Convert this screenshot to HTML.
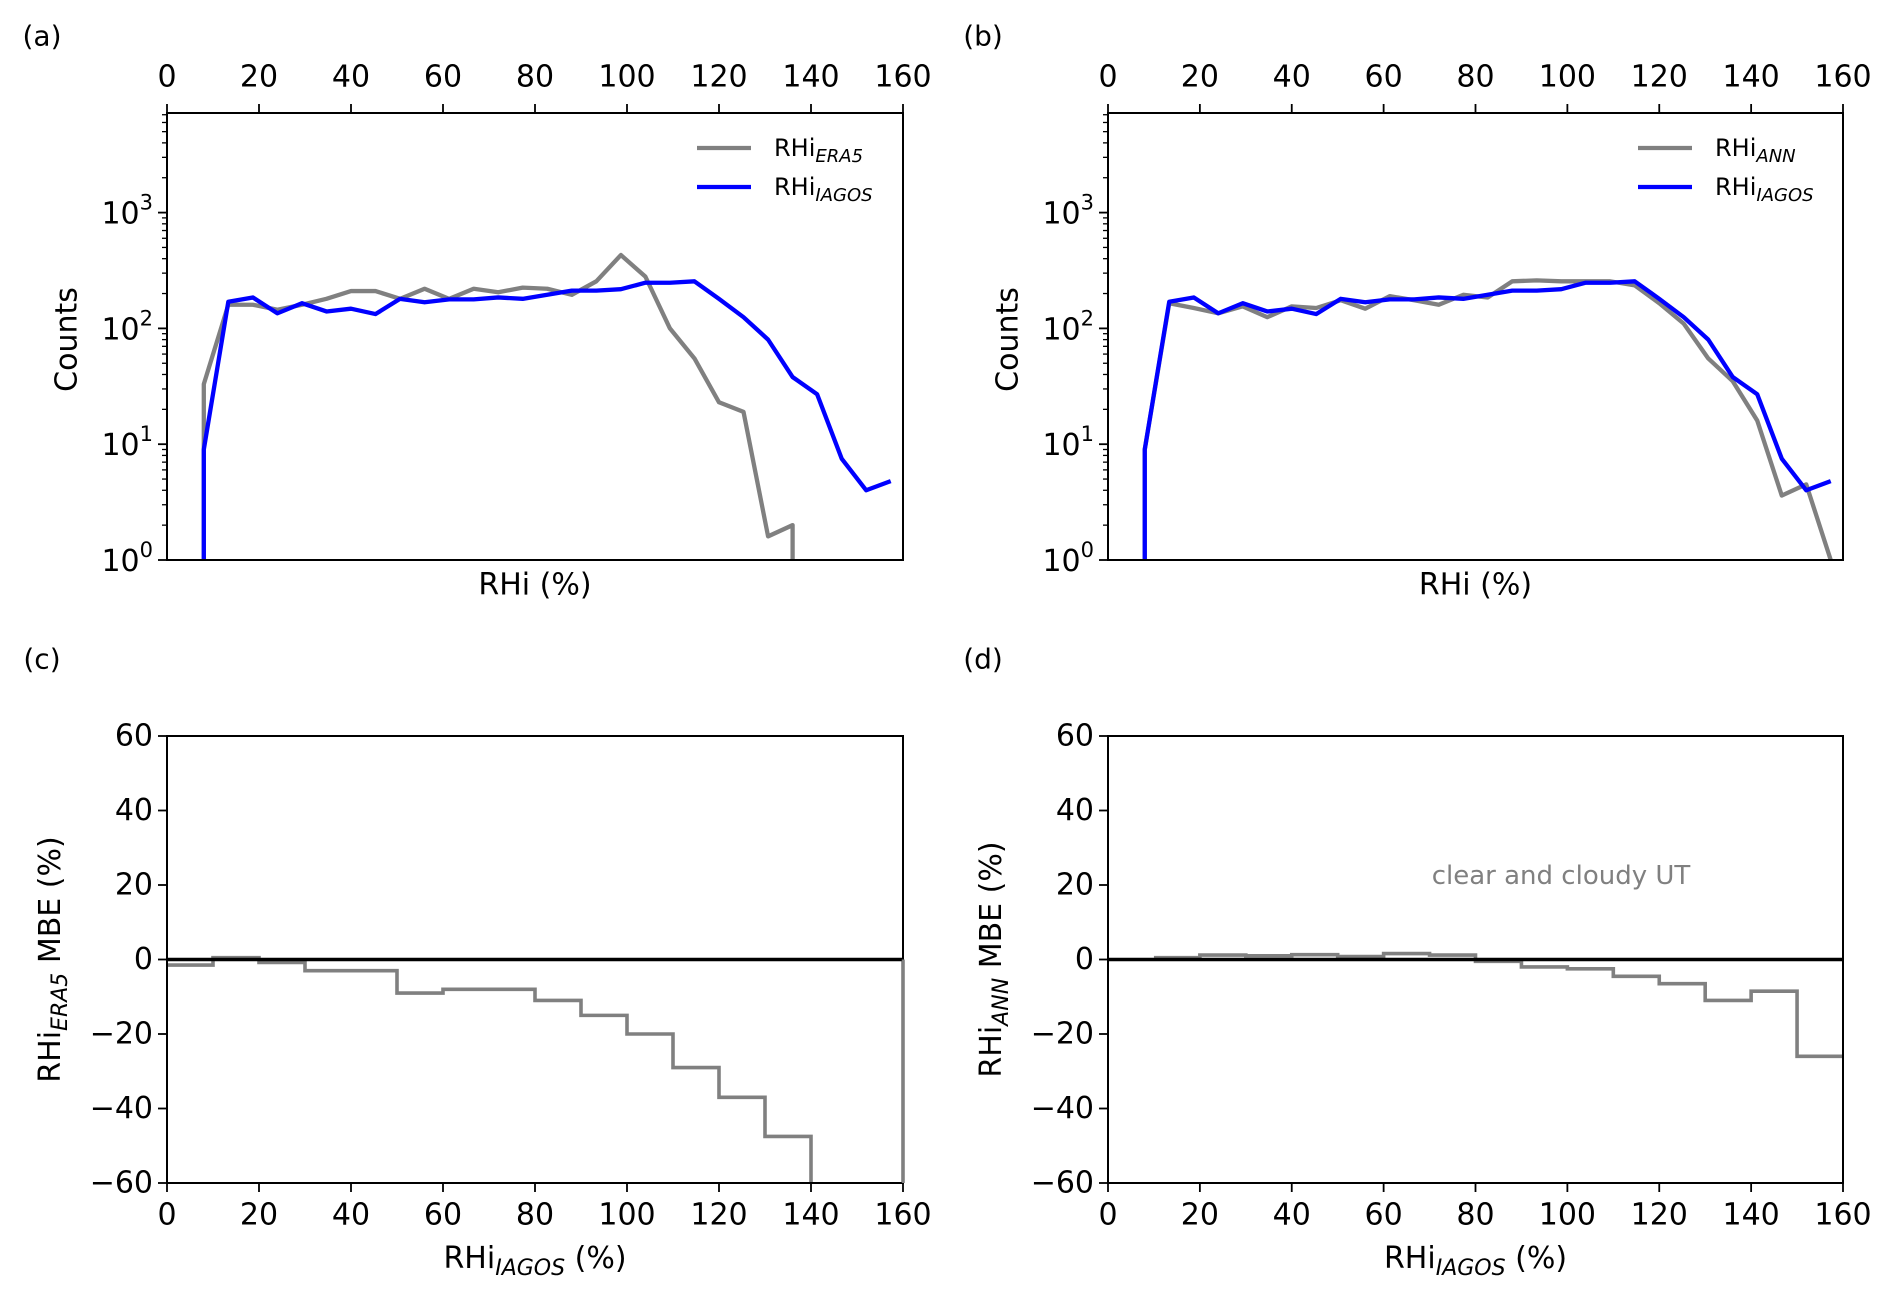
<!DOCTYPE html>
<html><head><meta charset="utf-8"><style>
html,body{margin:0;padding:0;background:#fff}
svg{display:block;font-family:"DejaVu Sans","Liberation Sans",sans-serif}
</style></head><body>
<svg id="fig" width="1892" height="1295" viewBox="0 0 1892 1295"></svg>
<script>
// ---- data ----
const binCenters = [2.67,8,13.33,18.67,24,29.33,34.67,40,45.33,50.67,56,61.33,66.67,72,77.33,82.67,88,93.33,98.67,104,109.33,114.67,120,125.33,130.67,136,141.33,146.67,152,157.33];
const countsERA5 = [0,33,160,160,145,160,180,210,210,180,220,180,220,205,225,220,195,255,430,280,100,55,23,19,1.6,2,0,0,0,0];
const countsIAGOS = [0,9,170,185,135,165,140,148,133,180,168,178,178,185,180,195,212,212,218,248,248,255,180,125,80,38,27,7.5,4,4.8];
const countsANN = [0,9,165,150,135,155,125,155,150,175,148,190,175,160,195,185,255,260,255,255,255,235,165,110,55,35,16,3.6,4.5,1.0];
const mbeEdges = [0,10,20,30,40,50,60,70,80,90,100,110,120,130,140,150,160];
const mbeERA5 = [-1.5,0.5,-0.8,-3,-3,-9,-8,-8,-11,-15,-20,-29,-37,-47.5,-80,-80];
const mbeANN = [null,0.5,1.2,1.0,1.3,0.8,1.6,1.2,-0.5,-2,-2.5,-4.5,-6.5,-11,-8.5,-26];
const xTicks = [0,20,40,60,80,100,120,140,160];
const mbeTicks = [-60,-40,-20,0,20,40,60];
const logTicks = [0,1,2,3];

const NS="http://www.w3.org/2000/svg";
const svg=document.getElementById('fig');
function el(tag,attrs,parent){const e=document.createElementNS(NS,tag);for(const k in attrs)e.setAttribute(k,attrs[k]);(parent||svg).appendChild(e);return e;}
function txt(s,x,y,size,anchor,parent,fill){const t=el('text',{x:x,y:y,'font-size':size,'text-anchor':anchor||'middle','dominant-baseline':'central',fill:fill||'#000'},parent);t.textContent=s;return t;}

const L={a:{x0:167,x1:903,y0:113,y1:560},b:{x0:1108,x1:1843,y0:113,y1:560},c:{x0:167,x1:903,y0:736,y1:1183},d:{x0:1108,x1:1843,y0:736,y1:1183}};
const LOGMAX=3.86;
const FS=30;

function xs(p,v){return p.x0+(v/160)*(p.x1-p.x0);}
function ylog(p,v){return p.y1-(Math.log10(v)/LOGMAX)*(p.y1-p.y0);}
function ylin(p,v){return p.y1-((v+60)/120)*(p.y1-p.y0);}

function panelLabel(s,x,y){const t=txt(s,x,y,28,'middle');

}

function logPanel(key,p,series,legendNames){
  const g=el('g',{});
  
  
  const clipId='clip'+key;
  const cp=el('clipPath',{id:clipId},g);el('rect',{x:p.x0,y:p.y0,width:p.x1-p.x0,height:p.y1-p.y0},cp);
  series.forEach((s,si)=>{
    let d='';let started=false;
    for(let i=0;i<binCenters.length;i++){
      const v=s.vals[i];const x=xs(p,binCenters[i]);
      if(v>0){
        if(!started){
          if(i>0&&!(s.vals[i-1]>0)) d+='M'+x+','+(p.y1+5)+'L'+x+','+ylog(p,v);
          else d+='M'+x+','+ylog(p,v);
          started=true;
        } else d+='L'+x+','+ylog(p,v);
      } else {
        if(started){d+='L'+xs(p,binCenters[i-1])+','+(p.y1+5);started=false;}
      }
    }
    const path=el('path',{d:d,fill:'none',stroke:s.color,'stroke-width':4.3,'stroke-linejoin':'round','clip-path':'url(#'+clipId+')'},g);
    
    
  });
  const box=el('rect',{x:p.x0,y:p.y0,width:p.x1-p.x0,height:p.y1-p.y0,fill:'none',stroke:'#000','stroke-width':2},g);
  
  
  xTicks.forEach(t=>{const x=xs(p,t);el('line',{x1:x,x2:x,y1:p.y0,y2:p.y0-9,stroke:'#000','stroke-width':1.8},g);
    const lb=txt(String(t),x,77,FS,'middle',g);
    
    });
  for(let dec=0;dec<4;dec++){
    for(let m=1;m<10;m++){
      const v=m*Math.pow(10,dec);if(Math.log10(v)>LOGMAX)break;
      const y=ylog(p,v);
      el('line',{x1:p.x0,x2:p.x0-(m===1?9:5),y1:y,y2:y,stroke:'#000','stroke-width':m===1?1.8:1.3},g);
    }
  }
  logTicks.forEach(e=>{const y=ylog(p,Math.pow(10,e));
    const t=el('text',{x:p.x0-14,y:y+11,'font-size':FS,'text-anchor':'end'},g);
    
    
    const a=el('tspan',{},t);a.textContent='10';
    const b=el('tspan',{dy:-14,'font-size':21},t);b.textContent=String(e);});
  const yt=txt('Counts',0,0,FS,'middle',g);yt.setAttribute('transform','translate('+(p.x0-100)+','+((p.y0+p.y1)/2+3)+') rotate(-90)');
  
  
  const xt=txt('RHi (%)',(p.x0+p.x1)/2,585,FS,'middle',g);
  
  
  const lx=p.x0+530;
  legendNames.forEach((n,i)=>{const y=148+i*39;
    const lg=el('g',{},g);
    
    
    el('line',{x1:lx,x2:lx+54,y1:y,y2:y,stroke:n.color,'stroke-width':4.3},lg);
    const t=el('text',{x:lx+77,y:y+8,'font-size':24},lg);
    const a=el('tspan',{},t);a.textContent='RHi';
    const b=el('tspan',{dy:6,'font-size':18,'font-style':'italic'},t);b.textContent=n.sub;});
}

function mbePanel(key,p,vals,ylabelSub,note,closeRight){
  const g=el('g',{});
  
  
  const clipId='clip'+key;
  const cp=el('clipPath',{id:clipId},g);el('rect',{x:p.x0-2,y:p.y0,width:p.x1-p.x0+4,height:p.y1-p.y0},cp);
  let d='';let started=false;
  for(let i=0;i<vals.length;i++){
    const v=vals[i];if(v===null){started=false;continue;}
    const xa=xs(p,mbeEdges[i]),xb=xs(p,mbeEdges[i+1]),y=ylin(p,v);
    if(!started){d+='M'+xa+','+y;started=true;}else d+='L'+xa+','+y;
    d+='L'+xb+','+y;
  }
  if(closeRight) d+='L'+xs(p,160)+','+ylin(p,0);
  const st=el('path',{d:d,fill:'none',stroke:'#808080','stroke-width':3.6,'clip-path':'url(#'+clipId+')'},g);
  
  
  const zl=el('line',{x1:p.x0,x2:p.x1,y1:ylin(p,0),y2:ylin(p,0),stroke:'#000','stroke-width':3.6},g);
  
  
  const box=el('rect',{x:p.x0,y:p.y0,width:p.x1-p.x0,height:p.y1-p.y0,fill:'none',stroke:'#000','stroke-width':2},g);
  
  
  if(closeRight){const r=el('line',{x1:p.x1,x2:p.x1,y1:ylin(p,0),y2:p.y1,stroke:'#808080','stroke-width':2.5},g);
    
    }
  xTicks.forEach(t=>{const x=xs(p,t);el('line',{x1:x,x2:x,y1:p.y1,y2:p.y1+9,stroke:'#000','stroke-width':1.8},g);
    const lb=txt(String(t),x,1215,FS,'middle',g);
    
    });
  mbeTicks.forEach(t=>{const y=ylin(p,t);el('line',{x1:p.x0,x2:p.x0-9,y1:y,y2:y,stroke:'#000','stroke-width':1.8},g);
    const lb=txt(String(t).replace('-','\u2212'),p.x0-14,y,FS,'end',g);
    
    });
  const xt=el('text',{x:(p.x0+p.x1)/2,y:1268,'font-size':FS,'text-anchor':'middle'},g);
  
  
  let a=el('tspan',{},xt);a.textContent='RHi';
  a=el('tspan',{dy:7,'font-size':22,'font-style':'italic'},xt);a.textContent='IAGOS';
  a=el('tspan',{dy:-7},xt);a.textContent=' (%)';
  const yt=el('text',{x:0,y:0,'font-size':FS,'text-anchor':'middle',transform:'translate('+(p.x0-107)+','+((p.y0+p.y1)/2)+') rotate(-90)'},g);
  
  
  a=el('tspan',{},yt);a.textContent='RHi';
  a=el('tspan',{dy:7,'font-size':22,'font-style':'italic'},yt);a.textContent=ylabelSub;
  a=el('tspan',{dy:-7},yt);a.textContent=' MBE (%)';
  if(note){const n=txt(note,1561,876,26,'middle',g,'#808080');
    
    }
}

panelLabel('(a)',42,36);panelLabel('(b)',983,36);panelLabel('(c)',42,659);panelLabel('(d)',983,659);
logPanel('a',L.a,[{name:'era5',vals:countsERA5,color:'#808080'},{name:'iagos',vals:countsIAGOS,color:'#0000ff'}],[{sub:'ERA5',color:'#808080'},{sub:'IAGOS',color:'#0000ff'}]);
logPanel('b',L.b,[{name:'ann',vals:countsANN,color:'#808080'},{name:'iagos',vals:countsIAGOS,color:'#0000ff'}],[{sub:'ANN',color:'#808080'},{sub:'IAGOS',color:'#0000ff'}]);
mbePanel('c',L.c,mbeERA5,'ERA5',null,true);
mbePanel('d',L.d,mbeANN,'ANN','clear and cloudy UT',false);
</script>
</body></html>
